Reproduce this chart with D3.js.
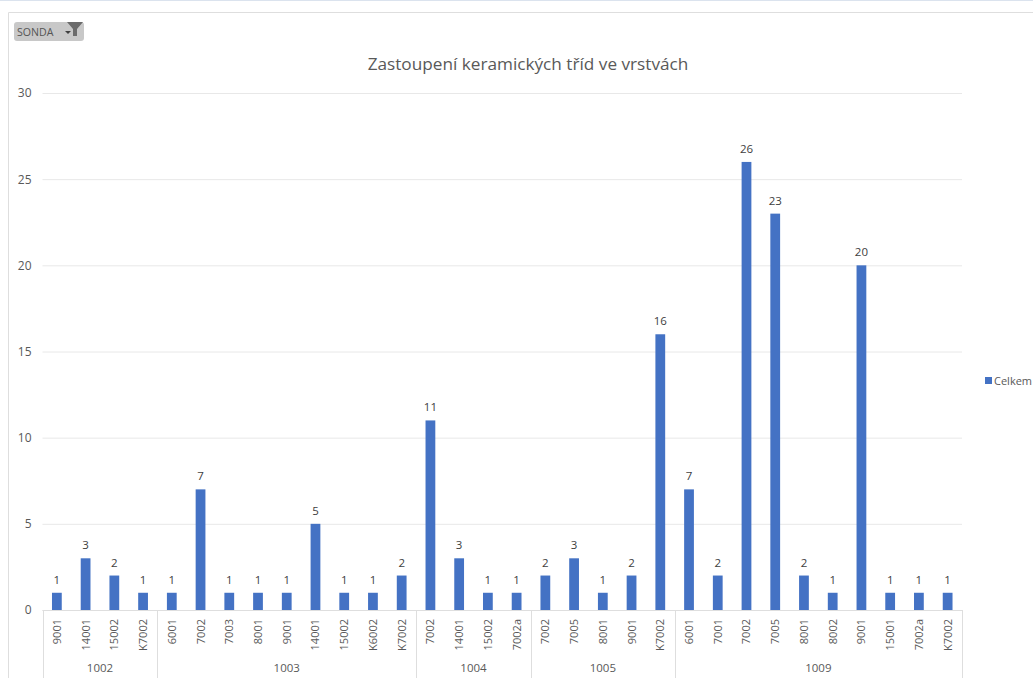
<!DOCTYPE html>
<html>
<head>
<meta charset="utf-8">
<script src="https://cdn.jsdelivr.net/npm/d3@7"></script>
<style>
html,body{margin:0;padding:0;background:#fff;overflow:hidden}
svg{display:block}
text{font-family:"Open Sans","Noto Sans",sans-serif;fill:#595959}
</style>
</head>
<body>
<svg id="chart" width="1033" height="678"></svg>
<script>
// Pivot chart: ceramic class counts per layer, grouped by probe (SONDA)
const chartTitle = "Zastoupení keramických tříd ve vrstvách";
const filterLabel = "SONDA";
const seriesName = "Celkem";
const groups = ["1002", "1003", "1004", "1005", "1009"];
const groupClasses = [
  ["9001", "14001", "15002", "K7002"],
  ["6001", "7002", "7003", "8001", "9001", "14001", "15002", "K6002", "K7002"],
  ["7002", "14001", "15002", "7002a"],
  ["7002", "7005", "8001", "9001", "K7002"],
  ["6001", "7001", "7002", "7005", "8001", "8002", "9001", "15001", "7002a", "K7002"]
];
const groupValues = [
  [1, 3, 2, 1],
  [1, 7, 1, 1, 1, 5, 1, 1, 2],
  [11, 3, 1, 1],
  [2, 3, 1, 2, 16],
  [7, 2, 26, 23, 2, 1, 20, 1, 1, 1]
];
const yTicks = [0, 5, 10, 15, 20, 25, 30];

const svg = d3.select("#chart");
const barColor = "#4472c4", gridColor = "#e8e8e8", frameColor = "#dedede";
const plot = {left: 42.5, right: 962, top: 93, bottom: 610, axisEnd: 678};

// Flatten groups into one row per bar
const rows = groups.flatMap((g, i) =>
  groupClasses[i].map((c, j) => ({key: g + "|" + c, group: g, label: c, value: groupValues[i][j]})));

const x = d3.scaleBand().domain(rows.map(r => r.key)).range([plot.left, plot.right]).paddingInner(0.66).paddingOuter(0.33);
const y = d3.scaleLinear().domain([0, 30]).range([plot.bottom, plot.top]);
const step = x.step();

// Window strip and chart frame
svg.append("line").attr("x1", 0).attr("x2", 1033).attr("y1", 0.5).attr("y2", 0.5).attr("stroke", "#dbe3ee");
svg.append("line").attr("x1", 8.5).attr("x2", 1033).attr("y1", 12.5).attr("y2", 12.5).attr("stroke", frameColor);
svg.append("line").attr("x1", 8.5).attr("x2", 8.5).attr("y1", 12.5).attr("y2", 678).attr("stroke", frameColor);

// Filter button
const btn = svg.append("g");
btn.append("rect").attr("x", 14).attr("y", 22).attr("width", 70).attr("height", 19).attr("rx", 3).attr("fill", "#c8c8c8");
btn.append("text").attr("x", 17).attr("y", 36).attr("font-size", 10.6).style("fill", "#555").text(filterLabel);
btn.append("path").attr("d", d3.line()([[65, 31], [71, 31], [68, 34]])).attr("fill", "#404040");
btn.append("path").attr("d", d3.line()([[67, 22], [83, 22], [77, 29], [77, 36], [73, 36], [73, 29]])).attr("fill", "#6b6b6b");

// Title
svg.append("text").attr("x", 528).attr("y", 70).attr("text-anchor", "middle").attr("font-size", 17.2).text(chartTitle);

// Horizontal gridlines and value labels
const yAxis = d3.axisLeft(y).tickValues(yTicks).tickSize(plot.left - plot.right).tickPadding(11).tickFormat(d3.format("d"));
const yG = svg.append("g").attr("transform", `translate(${plot.left},0)`).call(yAxis);
yG.select(".domain").remove();
yG.selectAll(".tick line").attr("stroke", gridColor);
yG.selectAll(".tick text").attr("font-size", 12).style("fill", "#595959");

// Bars
svg.append("g").selectAll("rect").data(rows).join("rect")
  .attr("x", r => x(r.key)).attr("width", x.bandwidth())
  .attr("y", r => y(r.value)).attr("height", r => y(0) - y(r.value))
  .attr("fill", barColor);

// Data labels
svg.append("g").selectAll("text").data(rows).join("text")
  .attr("x", r => x(r.key) + x.bandwidth() / 2).attr("y", r => y(r.value) - 9)
  .attr("text-anchor", "middle").attr("font-size", 11.5).style("fill", "#404040")
  .text(r => r.value);

// Rotated class labels on the lower axis level, hanging from the top of the band
svg.append("g").selectAll("text").data(rows).join("text")
  .attr("transform", r => `translate(${x(r.key) + x.bandwidth() / 2 + 4},619) rotate(-90)`)
  .attr("text-anchor", "end").attr("font-size", 11).text(r => r.label);

// Group boundaries and group names
let offset = 0;
const spans = groups.map((g, i) => {
  const start = plot.left + offset * step;
  offset += groupClasses[i].length;
  return {name: g, start, end: plot.left + offset * step};
});
const bounds = [spans[0].start, ...spans.map(s => s.end)];
svg.append("line").attr("x1", plot.left).attr("x2", plot.right).attr("y1", plot.bottom + 0.5).attr("y2", plot.bottom + 0.5).attr("stroke", frameColor);
svg.append("g").selectAll("line").data(bounds).join("line")
  .attr("x1", d => Math.round(d) + 0.5).attr("x2", d => Math.round(d) + 0.5)
  .attr("y1", plot.bottom).attr("y2", plot.axisEnd).attr("stroke", frameColor);
svg.append("g").selectAll("text").data(spans).join("text")
  .attr("x", s => (s.start + s.end) / 2).attr("y", 672)
  .attr("text-anchor", "middle").attr("font-size", 11.5).text(s => s.name);

// Legend
svg.append("rect").attr("x", 985).attr("y", 377).attr("width", 7).attr("height", 7).attr("fill", barColor);
svg.append("text").attr("x", 994).attr("y", 385).attr("font-size", 11).text(seriesName);
</script>
</body>
</html>
